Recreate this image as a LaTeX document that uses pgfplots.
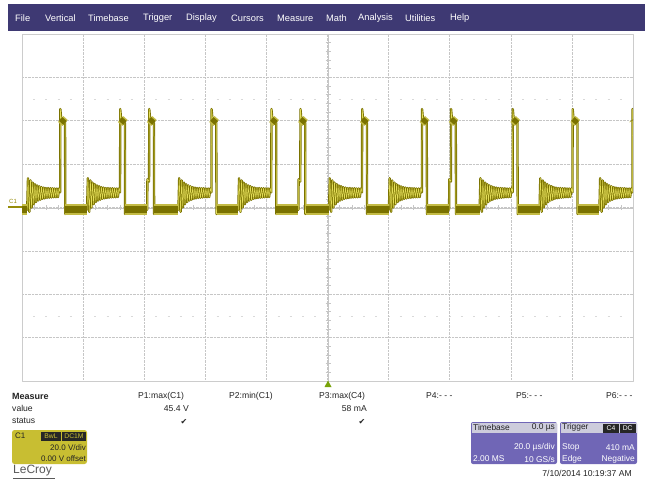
\documentclass[border=0pt]{standalone}
\usepackage{pgfplots}
\pgfplotsset{compat=1.18}
\usepackage{pgfplotstable}
\usepackage{fontspec}
\setmainfont{Liberation Sans}
\newfontfamily\symfont{DejaVu Sans}

\definecolor{menubar}{RGB}{62,57,115}
\definecolor{olivedark}{RGB}{122,114,0}
\definecolor{olivemid}{RGB}{150,140,10}
\definecolor{oliveglow}{RGB}{196,188,70}
\definecolor{brightyel}{RGB}{228,222,90}
\definecolor{c1box}{RGB}{200,190,50}
\definecolor{tbbody}{RGB}{112,102,182}
\definecolor{tbhead}{RGB}{205,204,220}
\definecolor{txt}{RGB}{35,35,35}

% C1 trace, t in us, v in V (20 V/div, 20 us/div)
\pgfplotstableread{
t v
-100 -1
-98.30 -1
-98.05 13.5
-97.58 -2
-97.22 12.5
-96.86 0
-96.50 11.5
-96.14 1.5
-95.78 10.8
-95.42 2.5
-95.06 10.2
-94.70 3.2
-94.34 9.8
-93.98 3.6
-93.62 9.4
-93.26 4.0
-92.90 9.2
-92.54 4.2
-92.18 9.0
-91.82 4.4
-91.46 9.0
-91.10 4.5
-90.74 8.9
-90.38 4.6
-90.02 8.9
-89.66 4.7
-89.30 8.8
-88.94 4.7
-88.58 8.8
-88.22 4.8
-87.86 8.8
-87.50 7
-87.45 45.4
-87.20 41.5
-85.90 39
-85.85 -3
-85.60 -1
-78.70 -1
-78.45 13.5
-77.98 -2
-77.62 12.5
-77.26 0
-76.90 11.5
-76.54 1.5
-76.18 10.8
-75.82 2.5
-75.46 10.2
-75.10 3.2
-74.74 9.8
-74.38 3.6
-74.02 9.4
-73.66 4.0
-73.30 9.2
-72.94 4.2
-72.58 9.0
-72.22 4.4
-71.86 9.0
-71.50 4.5
-71.14 8.9
-70.78 4.6
-70.42 8.9
-70.06 4.7
-69.70 8.8
-69.34 4.7
-68.98 8.8
-68.62 4.8
-68.26 8.8
-67.90 7
-67.85 45.4
-67.60 41.5
-66.30 39
-66.25 -3
-66.00 -1
-59.00 -1
-58.95 13
-58.40 12
-58.35 45.4
-58.10 41.5
-56.80 39
-56.75 -3
-56.50 -1
-48.80 -1
-48.55 13.5
-48.08 -2
-47.72 12.5
-47.36 0
-47.00 11.5
-46.64 1.5
-46.28 10.8
-45.92 2.5
-45.56 10.2
-45.20 3.2
-44.84 9.8
-44.48 3.6
-44.12 9.4
-43.76 4.0
-43.40 9.2
-43.04 4.2
-42.68 9.0
-42.32 4.4
-41.96 9.0
-41.60 4.5
-41.24 8.9
-40.88 4.6
-40.52 8.9
-40.16 4.7
-39.80 8.8
-39.44 4.7
-39.08 8.8
-38.72 4.8
-38.36 8.8
-38.00 7
-37.95 45.4
-37.70 41.5
-36.40 39
-36.35 -3
-36.10 -1
-29.20 -1
-28.95 13.5
-28.48 -2
-28.12 12.5
-27.76 0
-27.40 11.5
-27.04 1.5
-26.68 10.8
-26.32 2.5
-25.96 10.2
-25.60 3.2
-25.24 9.8
-24.88 3.6
-24.52 9.4
-24.16 4.0
-23.80 9.2
-23.44 4.2
-23.08 9.0
-22.72 4.4
-22.36 9.0
-22.00 4.5
-21.64 8.9
-21.28 4.6
-20.92 8.9
-20.56 4.7
-20.20 8.8
-19.84 4.7
-19.48 8.8
-19.12 4.8
-18.76 8.8
-18.40 7
-18.35 45.4
-18.10 41.5
-16.80 39
-16.75 -3
-16.50 -1
-9.50 -1
-9.45 13
-8.90 12
-8.85 45.4
-8.60 41.5
-7.30 39
-7.25 -3
-7.00 -1
0.50 -1
0.75 13.5
1.22 -2
1.58 12.5
1.94 0
2.30 11.5
2.66 1.5
3.02 10.8
3.38 2.5
3.74 10.2
4.10 3.2
4.46 9.8
4.82 3.6
5.18 9.4
5.54 4.0
5.90 9.2
6.26 4.2
6.62 9.0
6.98 4.4
7.34 9.0
7.70 4.5
8.06 8.9
8.42 4.6
8.78 8.9
9.14 4.7
9.50 8.8
9.86 4.7
10.22 8.8
10.58 4.8
10.94 8.8
11.30 7
11.35 45.4
11.60 41.5
12.90 39
12.95 -3
13.20 -1
20.10 -1
20.35 13.5
20.82 -2
21.18 12.5
21.54 0
21.90 11.5
22.26 1.5
22.62 10.8
22.98 2.5
23.34 10.2
23.70 3.2
24.06 9.8
24.42 3.6
24.78 9.4
25.14 4.0
25.50 9.2
25.86 4.2
26.22 9.0
26.58 4.4
26.94 9.0
27.30 4.5
27.66 8.9
28.02 4.6
28.38 8.9
28.74 4.7
29.10 8.8
29.46 4.7
29.82 8.8
30.18 4.8
30.54 8.8
30.90 7
30.95 45.4
31.20 41.5
32.50 39
32.55 -3
32.80 -1
39.80 -1
39.85 13
40.40 12
40.45 45.4
40.70 41.5
42.00 39
42.05 -3
42.30 -1
49.80 -1
50.05 13.5
50.52 -2
50.88 12.5
51.24 0
51.60 11.5
51.96 1.5
52.32 10.8
52.68 2.5
53.04 10.2
53.40 3.2
53.76 9.8
54.12 3.6
54.48 9.4
54.84 4.0
55.20 9.2
55.56 4.2
55.92 9.0
56.28 4.4
56.64 9.0
57.00 4.5
57.36 8.9
57.72 4.6
58.08 8.9
58.44 4.7
58.80 8.8
59.16 4.7
59.52 8.8
59.88 4.8
60.24 8.8
60.60 7
60.65 45.4
60.90 41.5
62.20 39
62.25 -3
62.50 -1
69.40 -1
69.65 13.5
70.12 -2
70.48 12.5
70.84 0
71.20 11.5
71.56 1.5
71.92 10.8
72.28 2.5
72.64 10.2
73.00 3.2
73.36 9.8
73.72 3.6
74.08 9.4
74.44 4.0
74.80 9.2
75.16 4.2
75.52 9.0
75.88 4.4
76.24 9.0
76.60 4.5
76.96 8.9
77.32 4.6
77.68 8.9
78.04 4.7
78.40 8.8
78.76 4.7
79.12 8.8
79.48 4.8
79.84 8.8
80.20 7
80.25 45.4
80.50 41.5
81.80 39
81.85 -3
82.10 -1
89.00 -1
89.25 13.5
89.72 -2
90.08 12.5
90.44 0
90.80 11.5
91.16 1.5
91.52 10.8
91.88 2.5
92.24 10.2
92.60 3.2
92.96 9.8
93.32 3.6
93.68 9.4
94.04 4.0
94.40 9.2
94.76 4.2
95.12 9.0
95.48 4.4
95.84 9.0
96.20 4.5
96.56 8.9
96.92 4.6
97.28 8.9
97.64 4.7
98.00 8.8
98.36 4.7
98.72 8.8
99.08 4.8
99.44 8.8
99.80 7
99.85 45.4
100 42
}\wave

% persistence bands: low level between pulses
\pgfplotstableread{
t v
-100 -1
-98.3 -1
nan nan
-85.8 -1
-78.7 -1
nan nan
-66.2 -1
-59.0 -1
nan nan
-56.7 -1
-48.8 -1
nan nan
-36.3 -1
-29.2 -1
nan nan
-16.7 -1
-9.5 -1
nan nan
-7.2 -1
0.5 -1
nan nan
13.0 -1
20.1 -1
nan nan
32.6 -1
39.8 -1
nan nan
42.1 -1
49.8 -1
nan nan
62.3 -1
69.4 -1
nan nan
81.9 -1
89.0 -1
}\lowband

% persistence bands: pulse tops
\pgfplotstableread{
t v
-87.35 40.8
-85.90 39
nan nan
-67.75 40.8
-66.30 39
nan nan
-58.25 40.8
-56.80 39
nan nan
-37.85 40.8
-36.40 39
nan nan
-18.25 40.8
-16.80 39
nan nan
-8.75 40.8
-7.30 39
nan nan
11.45 40.8
12.90 39
nan nan
31.05 40.8
32.50 39
nan nan
40.55 40.8
42.00 39
nan nan
60.75 40.8
62.20 39
nan nan
80.35 40.8
81.80 39
nan nan
99.90 40.5
100 40.3
}\topband

\begin{document}
\begin{tikzpicture}
\useasboundingbox[fill=white] (0,0) rectangle (653pt,-481pt);

\begin{scope}[x=1pt,y=-1pt]
  % menu bar
  \fill[menubar] (8,4) rectangle (645,31);
  \foreach \x/\lab in {15/File,45/Vertical,88/Timebase,143/Trigger,186/Display,231/Cursors,277/Measure,326/Math,358/Analysis,405/Utilities,450/Help}
    \node[anchor=west,inner sep=0pt,text=white,font={\fontsize{9.3}{10}\selectfont}] at (\x,18.5) {\lab};
  % graticule details
  \draw[gray!45,line width=0.6pt] (328,34) -- (328,381);
  \draw[gray!45,line width=0.6pt] (22,208) -- (633,208);
  \foreach \i in {1,...,39} \draw[gray!45,line width=0.5pt] (325.5,34+\i*8.675) -- ++(5,0);
  \foreach \i in {1,...,49} \draw[gray!45,line width=0.5pt] (22+\i*12.22,205.5) -- ++(0,5);
  \foreach \i in {1,...,49} {
    \draw[gray!30,line width=0.6pt] (21+\i*12.22,99) -- ++(2,0);
    \draw[gray!30,line width=0.6pt] (21+\i*12.22,316) -- ++(2,0);
  }
\end{scope}

\begin{axis}[
    at={(22pt,-381pt)}, anchor=south west,
    scale only axis, width=611pt, height=347pt,
    xmin=-100, xmax=100, ymin=-80, ymax=80,
    xtick={-80,-60,...,80}, ytick={-60,-40,...,60},
    xticklabels={}, yticklabels={},
    major tick length=0pt,
    grid=major,
    grid style={densely dotted, gray!45, line width=0.6pt},
    axis line style={gray!40, line width=1pt},
    unbounded coords=jump,
    line join=round,
  ]
  \addplot[olivedark, line width=2.3pt] table[x=t,y=v] {\wave};
  \addplot[brightyel, line width=0.5pt] table[x=t,y=v] {\wave};
  \addplot[oliveglow, line width=11pt, line cap=butt] table[x=t,y=v] {\lowband};
  \addplot[olivedark, line width=6.5pt, line cap=butt] table[x=t,y=v] {\lowband};
  \addplot[oliveglow, line width=8pt, line cap=butt] table[x=t,y=v] {\topband};
  \addplot[olivedark, line width=5pt, line cap=butt] table[x=t,y=v] {\topband};
\end{axis}

\begin{scope}[x=1pt,y=-1pt]
  % C1 marker and trigger marker
  \draw[olivemid, line width=1.6pt] (8,207) -- (22,207);
  \node[anchor=west,inner sep=0pt,text=olivemid,font={\fontsize{6}{6}\selectfont}] at (9,201.5) {C1};
  \fill[olivemid!80!green] (324.5,387) -- (331.5,387) -- (328,380.5) -- cycle;

  % measure table
  \begin{scope}[every node/.style={inner sep=0pt,text=txt,font={\fontsize{8.6}{10}\selectfont}}]
    \node[anchor=west,font={\fontsize{9}{10}\selectfont\bfseries}] at (12,396) {Measure};
    \node[anchor=west] at (12,408.5) {value};
    \node[anchor=west] at (12,421) {status};
    \node[anchor=west] at (138,396) {P1:max(C1)};
    \node[anchor=west] at (229,396) {P2:min(C1)};
    \node[anchor=west] at (319,396) {P3:max(C4)};
    \node[anchor=west] at (426,396) {P4:- - -};
    \node[anchor=west] at (516,396) {P5:- - -};
    \node[anchor=west] at (606,396) {P6:- - -};
    \node[anchor=east] at (189,408.5) {45.4 V};
    \node[anchor=east] at (367,408.5) {58 mA};
    \node[font={\symfont\fontsize{8}{8}\selectfont}] at (184,421.5) {✔};
    \node[font={\symfont\fontsize{8}{8}\selectfont}] at (362,421.5) {✔};
    \node[anchor=east] at (632,473) {7/10/2014 10:19:37 AM};
  \end{scope}

  % C1 channel box
  \fill[c1box, rounded corners=2.5pt] (12,430) rectangle (87,464);
  \fill[black!85] (41,431.5) rectangle (61,440.5);
  \fill[black!85] (62,431.5) rectangle (86,440.5);
  \begin{scope}[every node/.style={inner sep=0pt,font={\fontsize{8}{9}\selectfont}}]
    \node[anchor=west,text=txt] at (15,435.5) {C1};
    \node[text=c1box,font={\fontsize{6.8}{7}\selectfont}] at (51,436) {BwL};
    \node[text=c1box,font={\fontsize{6.8}{7}\selectfont}] at (74,436) {DC1M};
    \node[anchor=east,text=txt] at (86,447.5) {20.0 V/div};
    \node[anchor=east,text=txt] at (86,459) {0.00 V offset};
  \end{scope}

  % timebase box
  \fill[tbbody, rounded corners=2pt] (471,422) rectangle (557,464);
  \fill[tbhead] (471.5,422.5) rectangle (556.5,433);
  % trigger box
  \fill[tbbody, rounded corners=2pt] (560,422) rectangle (637,464);
  \fill[tbhead] (560.5,422.5) rectangle (636.5,433);
  \fill[black!85] (603,423.5) rectangle (619,432.5);
  \fill[black!85] (620,423.5) rectangle (635.5,432.5);
  \begin{scope}[every node/.style={inner sep=0pt,font={\fontsize{8.4}{9}\selectfont}}]
    \node[anchor=west,text=txt] at (473,427.5) {Timebase};
    \node[anchor=east,text=txt] at (555,427.5) {0.0 µs};
    \node[anchor=east,text=white] at (555,447.5) {20.0 µs/div};
    \node[anchor=west,text=white] at (473,459) {2.00 MS};
    \node[anchor=east,text=white] at (555,459) {10 GS/s};
    \node[anchor=west,text=txt] at (562,427.5) {Trigger};
    \node[text=white,font={\fontsize{6.8}{7}\selectfont}] at (611,428) {C4};
    \node[text=white,font={\fontsize{6.8}{7}\selectfont}] at (627.7,428) {DC};
    \node[anchor=west,text=white] at (562,447.5) {Stop};
    \node[anchor=east,text=white] at (635,447.5) {410 mA};
    \node[anchor=west,text=white] at (562,459) {Edge};
    \node[anchor=east,text=white] at (635,459) {Negative};
  \end{scope}

  % logo
  \node[anchor=west,inner sep=0pt,text=black!65,font={\fontsize{12}{12}\selectfont}] at (13,471) {LeCroy};
  \draw[black!65, line width=0.8pt] (13,478.5) -- (55,478.5);
\end{scope}
\end{tikzpicture}
\end{document}
